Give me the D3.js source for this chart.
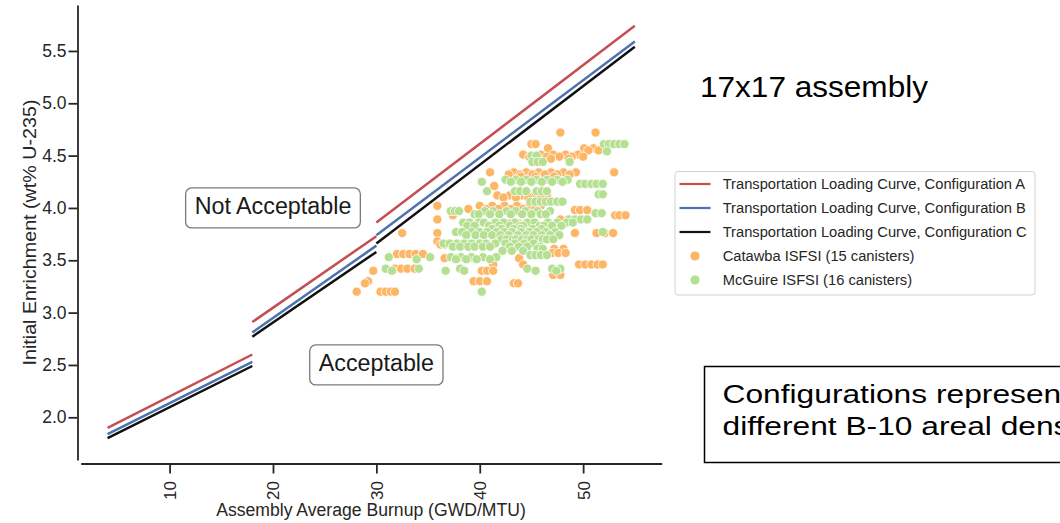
<!DOCTYPE html>
<html>
<head>
<meta charset="utf-8">
<script src="https://cdn.jsdelivr.net/npm/d3@7"></script>
<style>
  html, body { margin: 0; padding: 0; background: #fff; }
  svg { display: block; font-family: "Liberation Sans", Arial, sans-serif; }
</style>
</head>
<body>
<svg id="chart" width="1060" height="523"></svg>
<script>
// ---- Loading curves: segments of [burnup (GWD/MTU), enrichment (wt% U-235)] ----
const curveA = [[[4, 1.90], [18, 2.60]], [[18, 2.91], [30, 3.73]], [[30, 3.86], [55, 5.74]]];
const curveB = [[[4, 1.84], [18, 2.53]], [[18, 2.81], [30, 3.64]], [[30, 3.74], [55, 5.59]]];
const curveC = [[[4, 1.80], [18, 2.49]], [[18, 2.77], [30, 3.58]], [[30, 3.66], [55, 5.54]]];

// ---- Discharged assemblies, grouped by enrichment: [enrichment, [burnups]] ----
const catawbaRows = [
  [4.72, [47.8, 51.2]],
  [4.61, [45.0, 45.4]],
  [4.57, [46.6, 50.1, 51.0]],
  [4.55, [50.5, 51.5]],
  [4.51, [44.2, 45.9, 47.1, 48.3, 49.5]],
  [4.49, [44.8, 46.5, 47.7, 48.9, 50.0]],
  [4.47, [45.3, 46.9, 48.6]],
  [4.34, [41.0, 43.3, 44.5, 45.7, 46.9, 48.1, 49.3, 53.0]],
  [4.32, [42.8, 43.9, 45.1, 46.3, 47.5, 48.7]],
  [4.30, [44.0, 45.4, 47.2]],
  [4.21, [41.4]],
  [4.12, [41.7, 42.9, 44.1, 45.3, 46.5]],
  [4.10, [42.3, 43.5, 44.7, 45.9]],
  [4.02, [35.9, 40.0, 41.2, 42.4, 43.6, 44.8, 45.9]],
  [3.99, [38.9, 40.6, 41.8, 43.0, 44.2, 45.4]],
  [3.98, [49.2, 49.7, 50.4]],
  [3.93, [37.4, 53.1, 53.5, 54.1]],
  [3.89, [35.9, 47.8]],
  [3.85, [42.0, 42.9, 43.8]],
  [3.76, [32.5, 35.9, 49.2, 51.3, 52.1, 52.9]],
  [3.72, [41.5, 43.0]],
  [3.68, [35.9]],
  [3.65, [36.2, 36.6]],
  [3.61, [47.2, 48.1]],
  [3.57, [47.0, 47.6, 48.3]],
  [3.56, [32.0, 32.6, 33.2, 33.8, 34.5]],
  [3.52, [36.6, 37.6, 39.1, 43.8]],
  [3.46, [41.3, 44.2, 49.6, 50.2, 50.8, 51.4, 51.9]],
  [3.42, [31.8, 32.4, 33.0, 33.7]],
  [3.40, [29.7, 40.2, 40.7, 41.3]],
  [3.36, [47.1, 47.8]],
  [3.30, [29.2, 39.4, 40.0, 40.7]],
  [3.28, [28.9, 43.3, 43.7]],
  [3.20, [28.1, 30.4, 30.9, 31.4, 31.8]]
];

const mcguireRows = [
  [4.61, [52.0, 52.5, 53.0, 53.5, 54.0]],
  [4.54, [52.3]],
  [4.50, [45.0, 45.5]],
  [4.44, [45.1, 45.6, 46.1, 48.7]],
  [4.27, [42.5, 43.5, 44.5, 45.5, 46.5, 47.5, 48.5]],
  [4.25, [40.2, 43.0, 44.0, 45.0, 46.0, 47.0, 48.0]],
  [4.23, [49.7, 50.2, 50.8, 51.3, 51.9]],
  [4.16, [40.7, 43.4, 43.9, 44.5, 45.5, 46.0, 46.5]],
  [4.13, [51.5, 51.9]],
  [4.06, [44.9, 45.4, 45.9, 46.4, 46.9, 47.5, 48.0]],
  [3.97, [37.2, 37.6, 38.0, 40.5, 41.3, 42.6, 43.5, 44.4, 45.6, 46.8]],
  [3.94, [39.5, 39.9, 41.0, 41.9, 43.0, 44.1, 45.0, 45.9, 46.4]],
  [3.95, [51.2, 51.8]],
  [3.89, [48.6, 49.2, 49.8, 50.4]],
  [3.86, [38.4, 39.0, 39.9, 40.4, 41.5, 42.3, 43.4, 44.6, 45.3, 46.6, 47.5, 48.4, 49.0]],
  [3.83, [38.8, 39.5, 40.9, 41.9, 42.9, 43.9, 44.2, 45.8, 46.2, 47.0, 47.9]],
  [3.80, [41.2, 42.1, 43.3, 44.0, 45.1, 46.0]],
  [3.77, [37.7, 38.3, 39.2, 40.0, 40.7, 41.6, 42.4, 43.1, 44.0, 44.8, 45.5, 46.4, 47.3, 51.9]],
  [3.74, [38.7, 39.6, 40.4, 41.2, 42.0, 42.8, 43.7, 44.5, 45.2, 46.0, 46.8, 47.7]],
  [3.70, [42.1, 42.6, 43.2, 43.5, 44.1, 44.6, 45.0, 45.7, 46.1, 46.5, 47.1]],
  [3.66, [36.5, 37.1, 37.8, 38.5, 39.2, 40.0, 40.6, 41.5, 42.5, 43.4, 44.3, 45.2]],
  [3.63, [37.4, 38.1, 38.9, 39.5, 40.3, 41.0, 42.9, 43.8, 44.6, 45.8]],
  [3.61, [45.6, 46.1]],
  [3.59, [42.2, 43.1, 44.2]],
  [3.55, [44.9, 45.4, 45.9, 46.5]],
  [3.53, [31.2, 35.2, 37.2, 38.2, 39.2, 40.3, 41.6]],
  [3.51, [33.9, 37.7, 38.7, 39.7, 41.0]],
  [3.42, [30.9, 34.1, 38.1, 44.6, 47.0, 47.8]],
  [3.40, [31.5, 36.7, 38.5, 45.4, 47.4]],
  [3.20, [40.2]]
];

const xTicks = [10, 20, 30, 40, 50];
const yTicks = [2.0, 2.5, 3.0, 3.5, 4.0, 4.5, 5.0, 5.5];

const curveNames = [
  "Transportation Loading Curve, Configuration A",
  "Transportation Loading Curve, Configuration B",
  "Transportation Loading Curve, Configuration C"
];
const siteNames = ["Catawba ISFSI (15 canisters)", "McGuire ISFSI (16 canisters)"];

// ---- styling ----
const curveColors = ["#c44e52", "#4c72b0", "#111111"];
const siteColors = ["#fdb566", "#b5df91"];
const ink = "#262626";

const svg = d3.select("#chart");

const x = d3.scaleLinear().domain([1.4, 57.6]).range([80.7, 661.7]);
const y = d3.scaleLinear().domain([1.592, 5.939]).range([460, 5]);

// ---- axes (spines offset from each other) ----
const yAxis = svg.append("g")
  .attr("transform", "translate(77.5,0)")
  .call(d3.axisLeft(y).tickValues(yTicks).tickFormat(d3.format(".1f")).tickSize(9).tickPadding(2).tickSizeOuter(0));
const xAxis = svg.append("g")
  .attr("transform", "translate(0,463.5)")
  .call(d3.axisBottom(x).tickValues(xTicks).tickFormat(d3.format("d")).tickSize(10).tickSizeOuter(0));

[yAxis, xAxis].forEach(g => {
  g.select(".domain").attr("stroke", ink).attr("stroke-width", 1.8);
  g.selectAll(".tick line").attr("stroke", ink).attr("stroke-width", 1.8);
  g.selectAll(".tick text").attr("fill", ink).style("font-size", "17.5px")
    .style("font-family", "'Liberation Sans', Arial, sans-serif");
});
xAxis.selectAll(".tick text")
  .attr("transform", "rotate(-90)")
  .attr("x", -17.5).attr("y", 0).attr("dy", "0.35em")
  .attr("text-anchor", "end")
  .style("font-size", "17px");

svg.append("text")
  .attr("x", 371).attr("y", 516)
  .attr("text-anchor", "middle")
  .attr("fill", ink)
  .style("font-size", "17.6px")
  .text("Assembly Average Burnup (GWD/MTU)");

svg.append("text")
  .attr("transform", "translate(36,232.5) rotate(-90)")
  .attr("text-anchor", "middle")
  .attr("fill", ink)
  .style("font-size", "18px")
  .attr("textLength", 266).attr("lengthAdjust", "spacingAndGlyphs")
  .text("Initial Enrichment (wt% U-235)");

// ---- loading curves ----
const line = d3.line().x(d => x(d[0])).y(d => y(d[1]));
[curveA, curveB, curveC].forEach((segs, i) => {
  svg.append("g").selectAll("path").data(segs).join("path")
    .attr("d", line)
    .attr("fill", "none")
    .attr("stroke", curveColors[i])
    .attr("stroke-width", 2.5);
});

// ---- assemblies ----
const toPoints = rows => rows.flatMap(([e, bs]) => bs.map(b => ({ b, e })));
[catawbaRows, mcguireRows].forEach((rows, i) => {
  svg.append("g").selectAll("circle").data(toPoints(rows)).join("circle")
    .attr("cx", d => x(d.b))
    .attr("cy", d => y(d.e))
    .attr("r", 4.6)
    .attr("fill", siteColors[i])
    .attr("stroke", "#fff")
    .attr("stroke-width", 0.8);
});

// ---- region labels ----
function boxedLabel(bx, by, label, size) {
  const g = svg.append("g");
  const t = g.append("text")
    .attr("x", x(bx)).attr("y", y(by)).attr("dy", "0.27em")
    .attr("text-anchor", "middle")
    .attr("fill", "#1a1a1a")
    .style("font-size", size + "px")
    .text(label);
  const bb = t.node().getBBox();
  const padX = 9, h = 40;
  g.insert("rect", "text")
    .attr("x", bb.x - padX).attr("y", y(by) - h / 2)
    .attr("width", bb.width + 2 * padX).attr("height", h)
    .attr("rx", 6).attr("ry", 6)
    .attr("fill", "#fff")
    .attr("stroke", "#7a7a7a").attr("stroke-width", 1.3);
}
boxedLabel(20, 4.0, "Not Acceptable", 23.3);
boxedLabel(30, 2.5, "Acceptable", 23.3);

// ---- legend ----
const lg = svg.append("g");
lg.append("rect")
  .attr("x", 675).attr("y", 171.5).attr("width", 360).attr("height", 123.5)
  .attr("rx", 3).attr("fill", "#fff").attr("stroke", "#d0d0d0").attr("stroke-width", 1);
const rowY = i => 184 + i * 24;
curveNames.forEach((name, i) => {
  lg.append("line")
    .attr("x1", 679.5).attr("x2", 710.5).attr("y1", rowY(i)).attr("y2", rowY(i))
    .attr("stroke", curveColors[i]).attr("stroke-width", 2.2);
  lg.append("text")
    .attr("x", 722.7).attr("y", rowY(i)).attr("dy", "0.35em")
    .attr("fill", ink).style("font-size", "14.7px")
    .text(name);
});
siteNames.forEach((name, j) => {
  const i = j + 3;
  lg.append("circle")
    .attr("cx", 695).attr("cy", rowY(i)).attr("r", 5)
    .attr("fill", siteColors[j]).attr("stroke", "#fff").attr("stroke-width", 0.8);
  lg.append("text")
    .attr("x", 722.7).attr("y", rowY(i)).attr("dy", "0.35em")
    .attr("fill", ink).style("font-size", "14.7px")
    .text(name);
});

// ---- side notes ----
svg.append("text")
  .attr("x", 700).attr("y", 97)
  .attr("fill", "#000")
  .style("font-size", "30px")
  .attr("textLength", 228).attr("lengthAdjust", "spacingAndGlyphs")
  .text("17x17 assembly");

svg.append("rect")
  .attr("x", 704.5).attr("y", 366.5).attr("width", 420).attr("height", 96)
  .attr("fill", "#fff").attr("stroke", "#000").attr("stroke-width", 1.5);
const noteLines = ["Configurations represent", "different B-10 areal densities"];
noteLines.forEach((s, i) => {
  svg.append("text")
    .attr("transform", `translate(722.5,${403.3 + i * 31.7}) scale(1.24,1)`)
    .attr("fill", "#000")
    .style("font-size", "25.6px")
    .text(s);
});
</script>
</body>
</html>
